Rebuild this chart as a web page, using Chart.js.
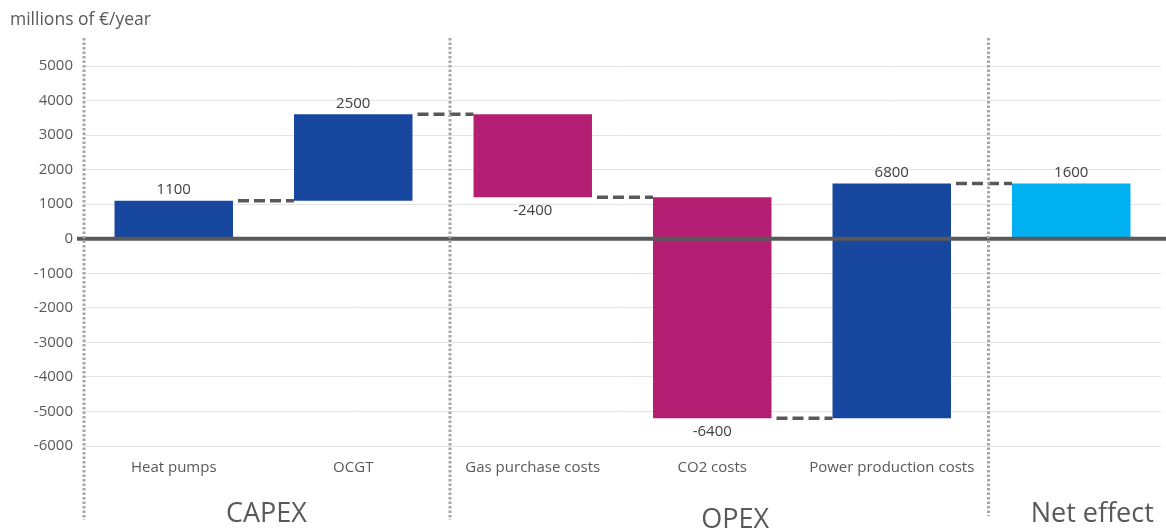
<!DOCTYPE html>
<html><head><meta charset="utf-8">
<script src="https://cdn.jsdelivr.net/npm/chart.js@4/dist/chart.umd.min.js"></script>
<style>html,body{margin:0;padding:0;background:#fff;overflow:hidden}#wrap{position:relative;width:1166px;height:529px}</style>
</head><body><div id="wrap"><canvas id="c" width="1166" height="529"></canvas></div>
<script>
const categories = ['Heat pumps', 'OCGT', 'Gas purchase costs', 'CO2 costs', 'Power production costs', ''];
const changes = [1100, 2500, -2400, -6400, 6800];
const groupNames = ['CAPEX', 'OPEX', 'Net effect'];
const groupSpans = [[0, 1], [2, 4], [5, 5]];
const yMin = -6000, yMax = 5000, yStep = 1000;
const unitTitle = 'millions of €/year';

const COLORS = { up: '#17479E', down: '#B41F73', total: '#00B0F0' };
const FONT = '"Open Sans", "Noto Sans", sans-serif';
const TEXT = '#595959';

// build floating bars from the changes
const floating = [];
const levels = [];
let cum = 0;
changes.forEach(v => { floating.push([cum, cum + v]); cum += v; levels.push(cum); });
const netValue = cum;
floating.push([0, netValue]);
const labelsVal = changes.concat([netValue]);
const barColors = changes.map(v => v >= 0 ? COLORS.up : COLORS.down).concat([COLORS.total]);

const deco = {
  id: 'deco',
  afterDatasetsDraw(chart) {
    const { ctx, chartArea: a, scales: { x, y } } = chart;
    const meta = chart.getDatasetMeta(0);
    ctx.save();
    // connectors
    ctx.strokeStyle = '#595959';
    ctx.lineWidth = 3.5;
    ctx.setLineDash([11, 5]);
    for (let i = 0; i < levels.length; i++) {
      const b0 = meta.data[i], b1 = meta.data[i + 1];
      const yy = y.getPixelForValue(levels[i]);
      ctx.beginPath();
      ctx.moveTo(b0.x + b0.width / 2 + 5, yy);
      ctx.lineTo(b1.x - b1.width / 2, yy);
      ctx.stroke();
    }
    // zero line
    ctx.setLineDash([]);
    ctx.lineWidth = 4;
    const y0 = y.getPixelForValue(0);
    ctx.beginPath(); ctx.moveTo(a.left - 7, y0); ctx.lineTo(chart.width, y0); ctx.stroke();
    // separators
    ctx.strokeStyle = '#A6A6A6';
    ctx.lineWidth = 3;
    ctx.setLineDash([2.5, 2]);
    const seps = [a.left];
    for (let g = 1; g < groupSpans.length; g++) {
      const i = groupSpans[g][0];
      seps.push((x.getPixelForValue(i - 1) + x.getPixelForValue(i)) / 2 + 7);
    }
    seps.forEach((sx, k) => {
      ctx.beginPath(); ctx.moveTo(sx, 38); ctx.lineTo(sx, k === 2 ? 516 : 520); ctx.stroke();
    });
    ctx.setLineDash([]);
    // data labels
    ctx.fillStyle = '#404040';
    ctx.font = '15px ' + FONT;
    ctx.textAlign = 'center';
    ctx.textBaseline = 'middle';
    meta.data.forEach((b, i) => {
      const v = labelsVal[i];
      const top = Math.min(b.y, b.base), bot = Math.max(b.y, b.base);
      if (v >= 0) ctx.fillText(String(v), b.x, top - 11);
      else ctx.fillText(String(v), b.x, bot + 13);
    });
    // unit title
    ctx.fillStyle = TEXT;
    ctx.textAlign = 'left';
    ctx.textBaseline = 'alphabetic';
    ctx.font = '17.5px ' + FONT;
    ctx.fillText(unitTitle, 10, 25);
    // group labels
    ctx.font = '27px ' + FONT;
    ctx.textAlign = 'center';
    const offs = [3, 23, 21];
    const bases = [522, 528, 522];
    groupSpans.forEach((s, g) => {
      const cx = (x.getPixelForValue(s[0]) + x.getPixelForValue(s[1])) / 2 + offs[g];
      ctx.fillText(groupNames[g], cx, bases[g]);
    });
    ctx.restore();
  }
};

new Chart(document.getElementById('c'), {
  type: 'bar',
  data: {
    labels: categories,
    datasets: [{
      data: floating,
      backgroundColor: barColors,
      borderWidth: 0,
      barPercentage: 0.66,
      categoryPercentage: 1.0
    }]
  },
  options: {
    responsive: false,
    devicePixelRatio: 1,
    animation: false,
    layout: { padding: { top: 66, right: 5, left: 0, bottom: 0 } },
    plugins: { legend: { display: false }, tooltip: { enabled: false } },
    scales: {
      x: {
        grid: { display: false, drawTicks: false },
        border: { display: false },
        ticks: { color: TEXT, font: { size: 15, family: FONT }, padding: 13, maxRotation: 0, autoSkip: false },
        afterFit(s) { s.height = 83; }
      },
      y: {
        min: yMin, max: yMax,
        grid: {
          drawTicks: false,
          color: '#E3E3E3',
          lineWidth: c => (c.tick && c.tick.value === 0) ? 0 : 1
        },
        border: { display: false },
        ticks: { stepSize: yStep, color: TEXT, font: { size: 15, family: FONT }, padding: 11, callback: v => String(v) },
        afterFit(s) { s.width = 84; }
      }
    }
  },
  plugins: [deco]
});
</script>
</body></html>
